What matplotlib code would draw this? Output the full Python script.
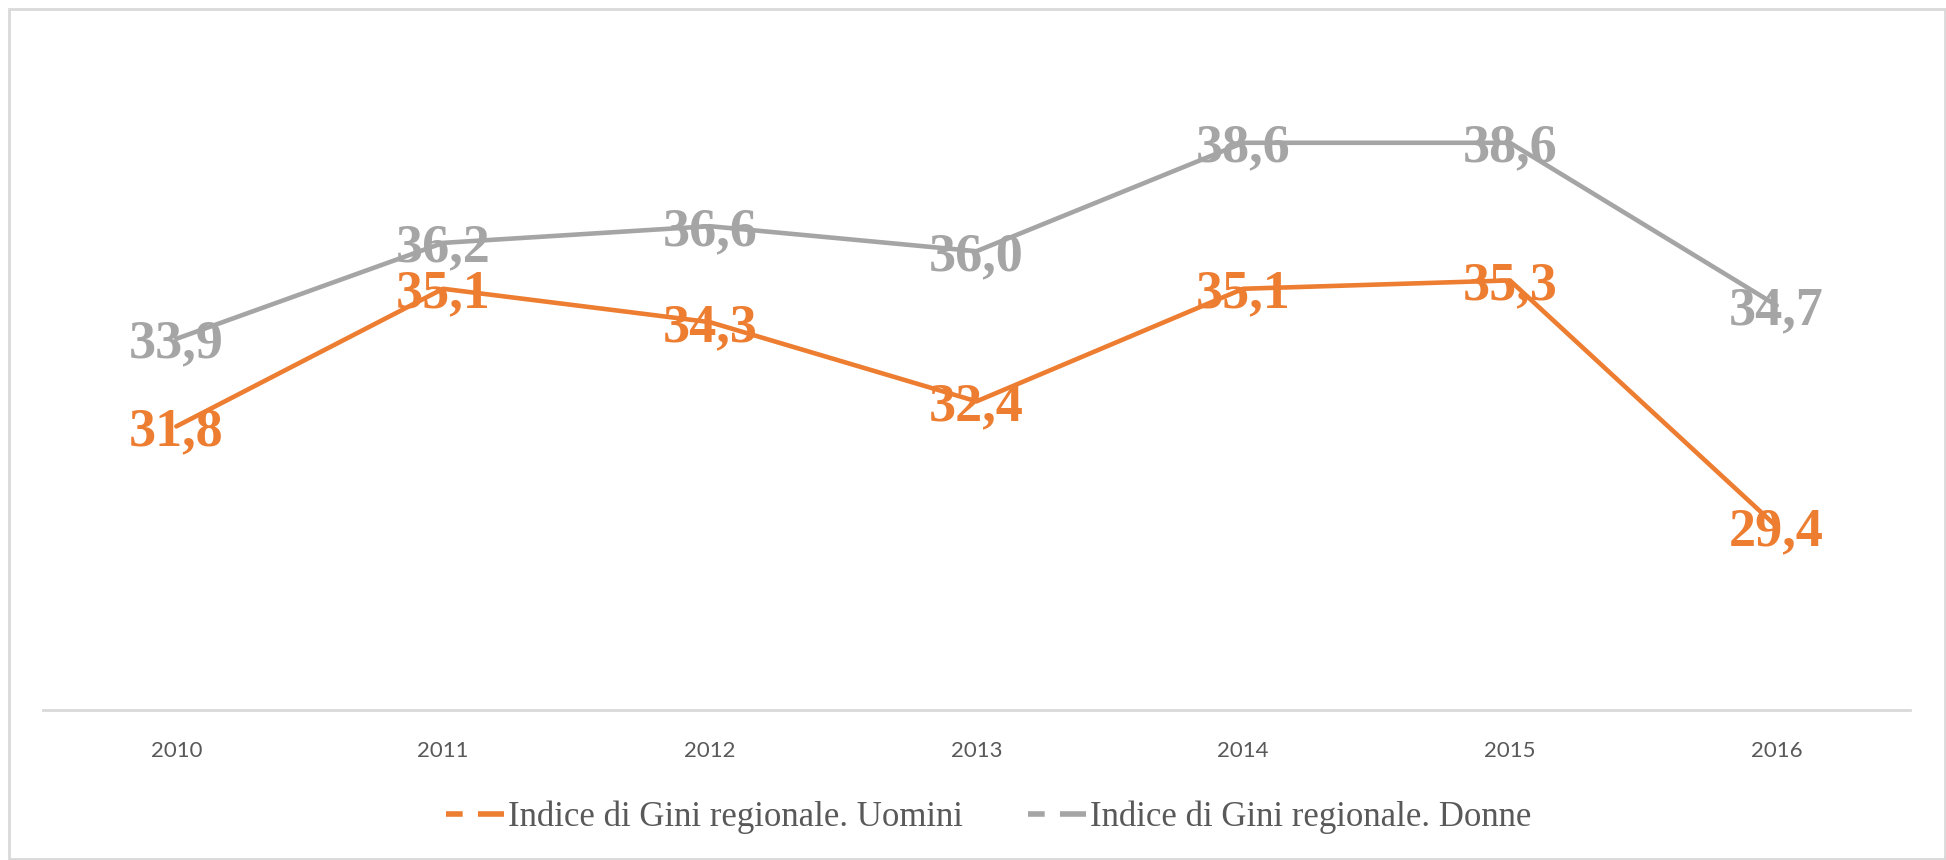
import matplotlib
matplotlib.use("Agg")
import matplotlib.pyplot as plt
from matplotlib.lines import Line2D
from matplotlib.patches import Rectangle

years = ["2010", "2011", "2012", "2013", "2014", "2015", "2016"]
uomini = [31.8, 35.1, 34.3, 32.4, 35.1, 35.3, 29.4]
donne = [33.9, 36.2, 36.6, 36.0, 38.6, 38.6, 34.7]
series_names = ["Indice di Gini regionale. Uomini", "Indice di Gini regionale. Donne"]
colors = ["#ED7D31", "#A5A5A5"]

plt.rcParams["lines.scale_dashes"] = False

W, H = 1946, 860
fig = plt.figure(figsize=(W / 100, H / 100), dpi=100)
ax = fig.add_axes([43 / W, 1 - 710 / H, (1910 - 43) / W, (710 - 84.4) / H])

x = list(range(len(years)))
for vals, col in [(donne, colors[1]), (uomini, colors[0])]:
    ax.plot(x, vals, color=col, lw=3.3, solid_capstyle="round", zorder=2)
for vals, col in [(donne, colors[1]), (uomini, colors[0])]:
    for xi, v in zip(x, vals):
        ax.annotate(f"{v:.1f}".replace(".", ","), (xi, v), xytext=(0, -13.5),
                    textcoords="offset points", ha="center", va="baseline",
                    fontsize=39, fontweight="bold", family="Liberation Serif",
                    color=col, zorder=3)

ax.set_xlim(-0.5, len(years) - 0.5)
ax.set_ylim(25, 40)
ax.set_xticks(x)
ax.set_xticklabels(years, family="Lato", fontsize=16, color="#595959")
ax.tick_params(axis="x", length=0, pad=22)
ax.set_yticks([])
for s in ["top", "right", "left"]:
    ax.spines[s].set_visible(False)
ax.spines["bottom"].set_color("#D9D9D9")
ax.spines["bottom"].set_linewidth(2)

handles = [Line2D([0], [0], color=c, lw=4, linestyle=(0, (12, 11, 18.8, 20)))
           for c in colors]
fig.legend(handles, series_names, loc="center", bbox_to_anchor=(989 / W, 1 - 817 / H),
           ncol=2, frameon=False, handlelength=1.67, handletextpad=0.12,
           columnspacing=1.87, prop={"family": "Liberation Serif", "size": 25},
           labelcolor="#595959")

fig.patches.append(Rectangle((8.5 / W, 1 - 859 / H), (1945 - 8.5) / W, (859 - 8.5) / H,
                             transform=fig.transFigure, fill=False,
                             edgecolor="#D9D9D9", lw=2))

fig.savefig("out.png", dpi=100)
